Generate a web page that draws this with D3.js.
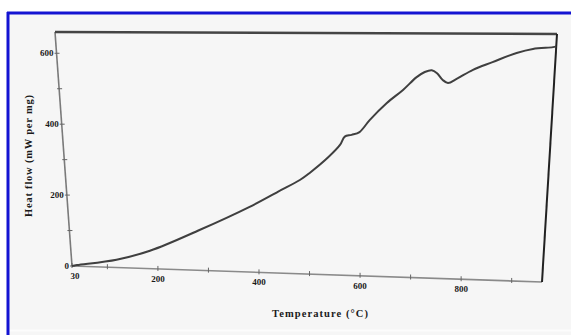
<!DOCTYPE html>
<html>
<head>
  <script src="https://d3js.org/d3.v7.min.js"></script>
  <meta charset='utf-8'>
  <title>Heat flow</title>
  <style>
    body { margin: 0; background: #ffffff; }
    text { font-family: "Liberation Serif", "DejaVu Serif", serif; font-weight: bold; fill: #1a1a1a; }
  </style>
</head>

<body>
  <div id="container"></div>

  <script>
  // temperature (°C) and heat flow (mW per mg)
  const temps = [30, 40, 119, 186, 285, 384, 440, 482, 501, 536, 559, 568, 581, 596, 615, 647, 677, 702, 717, 730, 740, 751, 761, 777, 807, 843, 887, 917, 954, 960];
  const heatFlow = [0, 3, 22, 50, 112, 180, 224, 257, 277, 320, 355, 378, 383, 391, 424, 471, 507, 542, 556, 561, 553, 535, 527, 538, 563, 584, 609, 620, 625, 627];

  const xTicks = [30, 100, 200, 300, 400, 500, 600, 700, 800, 900];
  const xTickLabels = ["30", "200", "400", "600", "800"];
  const yTicks = [0, 100, 200, 300, 400, 500, 600];
  const yTickLabels = ["0", "200", "400", "600"];

  const width = 571, height = 335;

  // the scanned frame is not square: corners of the plot box on the page
  const TL = [55, 32], TR = [557, 34], BL = [72, 266], BR = [542, 282];

  const x = d3.scaleLinear().domain([30, 960]).range([0, 1]);
  const y = d3.scaleLinear().domain([0, 660]).range([1, 0]);

  function warp(u, v) {
    return [
      (1-u)*(1-v)*TL[0] + u*(1-v)*TR[0] + (1-u)*v*BL[0] + u*v*BR[0],
      (1-u)*(1-v)*TL[1] + u*(1-v)*TR[1] + (1-u)*v*BL[1] + u*v*BR[1]
    ];
  }
  function pt(t, q) { return warp(x(t), y(q)); }

  const data = temps.map(function(t, i) { return {t: t, q: heatFlow[i]}; });

  const svg = d3.select("#container").append("svg")
    .attr("width", width)
    .attr("height", height)
    .style("display", "block");

  svg.append("rect")
    .attr("x", 8).attr("y", 13)
    .attr("width", width - 8).attr("height", height - 13)
    .attr("fill", "#f6f6f6");

  svg.append("line")
    .attr("x1", 8).attr("x2", width)
    .attr("y1", 330.5).attr("y2", 330.5)
    .attr("stroke", "#fcfcfc").attr("stroke-width", 2);

  // blue border from the cropped figure
  svg.append("line")
    .attr("x1", 8).attr("x2", 8).attr("y1", 12).attr("y2", height)
    .attr("stroke", "#1414d2").attr("stroke-width", 3);
  svg.append("line")
    .attr("x1", 7).attr("x2", width).attr("y1", 13).attr("y2", 13)
    .attr("stroke", "#1414d2").attr("stroke-width", 3);

  const edge = d3.line();

  // plot box edges
  const x0 = x.domain()[0], x1 = x.domain()[1], y0 = y.domain()[0], y1 = y.domain()[1];
  svg.append("path").attr("d", edge([pt(x0, y0), pt(x0, y1)]))
    .attr("stroke", "#7a7a7a").attr("stroke-width", 1.6).attr("fill", "none");
  svg.append("path").attr("d", edge([pt(x0, y0), pt(x1, y0)]))
    .attr("stroke", "#8a8a8a").attr("stroke-width", 1.6).attr("fill", "none");
  svg.append("path").attr("d", edge([pt(x0, y1), pt(x1, y1)]))
    .attr("stroke", "#454545").attr("stroke-width", 2.6).attr("fill", "none");
  svg.append("path").attr("d", edge([pt(x1, y1), pt(x1, y0)]))
    .attr("stroke", "#222").attr("stroke-width", 2).attr("fill", "none");

  // x ticks
  svg.selectAll(".xtick")
    .data(xTicks)
    .enter()
    .append("path")
    .attr("class", "xtick")
    .attr("d", function(d) {
      const p = pt(d, y0);
      return edge([[p[0], p[1] - 3], [p[0], p[1] + 2]]);
    })
    .attr("stroke", "#666").attr("stroke-width", 1);

  svg.selectAll(".xlabel")
    .data(xTickLabels)
    .enter()
    .append("text")
    .attr("class", "xlabel")
    .attr("x", function(d) { return pt(+d, y0)[0] + (d === "30" ? 3 : 0); })
    .attr("y", function(d) { return pt(+d, y0)[1] + 13; })
    .attr("text-anchor", "middle")
    .attr("font-size", "9px")
    .text(function(d) { return d; });

  // y ticks
  svg.selectAll(".ytick")
    .data(yTicks)
    .enter()
    .append("path")
    .attr("class", "ytick")
    .attr("d", function(d) {
      const p = pt(x0, d);
      return edge([[p[0] - 2, p[1]], [p[0] + 3, p[1]]]);
    })
    .attr("stroke", "#666").attr("stroke-width", 1);

  svg.selectAll(".ylabel")
    .data(yTickLabels)
    .enter()
    .append("text")
    .attr("class", "ylabel")
    .attr("x", function(d) { return pt(x0, +d)[0] - 3; })
    .attr("y", function(d) { return pt(x0, +d)[1] + 3; })
    .attr("text-anchor", "end")
    .attr("font-size", "9px")
    .text(function(d) { return d; });

  // curve
  const line = d3.line()
    .x(function(d) { return pt(d.t, d.q)[0]; })
    .y(function(d) { return pt(d.t, d.q)[1]; })
    .curve(d3.curveCatmullRom);

  svg.append("path")
    .datum(data)
    .attr("d", line)
    .attr("fill", "none")
    .attr("stroke", "#3f3f3f")
    .attr("stroke-width", 2);

  // axis titles
  svg.append("text")
    .attr("x", 320).attr("y", 317)
    .attr("text-anchor", "middle")
    .attr("font-size", "10.5px")
    .attr("textLength", 96)
    .text("Temperature (°C)");

  svg.append("text")
    .attr("transform", "translate(32,156) rotate(-90)")
    .attr("text-anchor", "middle")
    .attr("font-size", "10.5px")
    .attr("textLength", 122)
    .text("Heat flow (mW per mg)");

  </script>
</body>
</html>
